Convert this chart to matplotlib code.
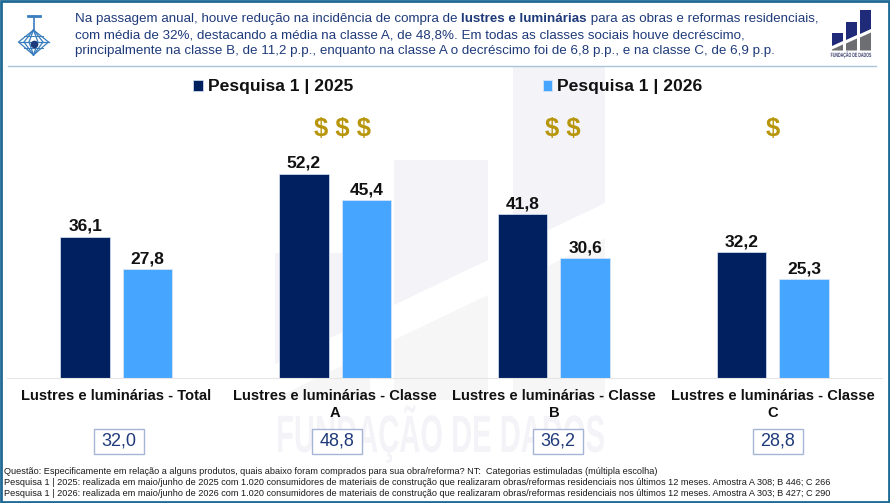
from matplotlib import pyplot as plt
from matplotlib.patches import Polygon, Rectangle
from matplotlib.patheffects import AbstractPathEffect
from matplotlib.transforms import Affine2D
import numpy as np

plt.rcParams['font.family'] = ['Liberation Sans', 'DejaVu Sans']

categorias = ['Lustres e luminárias - Total', 'Lustres e luminárias - Classe\nA',
	'Lustres e luminárias - Classe\nB', 'Lustres e luminárias - Classe\nC']
pesquisa_2025 = [36.1, 52.2, 41.8, 32.2]
pesquisa_2026 = [27.8, 45.4, 30.6, 25.3]
medias = [32.0, 48.8, 36.2, 28.8]
series = ['Pesquisa 1 | 2025', 'Pesquisa 1 | 2026']
cifroes = ['$ $ $', '$ $', '$']

titulo_a = 'Na passagem anual, houve redução na incidência de compra de '
titulo_b = 'lustres e luminárias'
titulo_c = ' para as obras e reformas residenciais,'
titulo_2 = 'com média de 32%, destacando a média na classe A, de 48,8%. Em todas as classes sociais houve decréscimo,'
titulo_3 = 'principalmente na classe B, de 11,2 p.p., enquanto na classe A o decréscimo foi de 6,8 p.p., e na classe C, de 6,9 p.p.'
rodape = ['Questão: Especificamente em relação a alguns produtos, quais abaixo foram comprados para sua obra/reforma? NT:  Categorias estimuladas (múltipla escolha)',
	'Pesquisa 1 | 2025: realizada em maio/junho de 2025 com 1.020 consumidores de materiais de construção que realizaram obras/reformas residenciais nos últimos 12 meses. Amostra A 308; B 446; C 266',
	'Pesquisa 1 | 2026: realizada em maio/junho de 2026 com 1.020 consumidores de materiais de construção que realizaram obras/reformas residenciais nos últimos 12 meses. Amostra A 303; B 427; C 290']

def virgula(v):
	return f'{v:.1f}'.replace('.', ',')

# a fonte condensada nao existe aqui, entao estica o texto na vertical
class Estica(AbstractPathEffect):
	def __init__(self, k):
		super().__init__()
		self.k = k
	def draw_path(self, renderer, gc, tpath, affine, rgbFace=None):
		renderer.draw_path(gc, tpath, Affine2D().scale(1, self.k) + affine, rgbFace)

AZUL_ESCURO = '#002060'
AZUL_CLARO = '#45A5FF'
TEXTO_AZUL = '#1F3A7A'
MARCA = '#F3F3F8'

fig = plt.figure(figsize=(8.9, 5.03), dpi=100)

# fundo em coordenadas de pixel: moldura, marca d'agua, cabecalho
bg = fig.add_axes([0, 0, 1, 1], zorder=0)
bg.set_xlim(0, 890)
bg.set_ylim(503, 0)
bg.axis('off')

# marca d'agua
for x0, x1, topo, y0, y1 in [(275, 370, 253, 364, 319), (394, 488, 160, 305, 260), (513, 605, 67, 247, 203)]:
	bg.add_patch(Polygon([(x0, topo), (x1, topo), (x1, y1), (x0, y0)], fc=MARCA, ec='none'))
for pts in [[(272, 400), (370, 352), (370, 400)],
		[(394, 340), (488, 295), (488, 400), (394, 400)],
		[(513, 283), (605, 238), (605, 400), (513, 400)]]:
	bg.add_patch(Polygon(pts, fc='#F6F6F7', ec='none'))
bg.text(440.5, 452, 'FUNDAÇÃO DE DADOS', fontsize=21, fontweight='bold', color=MARCA, ha='center', va='baseline',
	path_effects=[Estica(1.8)])

# moldura e linha do cabecalho
bg.add_patch(Rectangle((1, 1), 888, 501, fc='none', ec='#1F6A94', lw=2))
bg.plot([8, 876], [65.5, 65.5], color='#A9C4D8', lw=1)

# icone do lustre
LUSTRE = '#3A7DBE'
bg.plot([28, 40], [16, 16], color=LUSTRE, lw=2)
bg.plot([33.5, 33.5], [16, 31], color=LUSTRE, lw=1.2)
for xa in [18.5, 24, 29, 38, 43, 48.5]:
	bg.plot([33.5, xa, 33.5], [30, 42, 55], color=LUSTRE, lw=0.9)
bg.plot([18.5, 48.5], [42, 42], color=LUSTRE, lw=0.9)
bg.plot([24, 43], [36, 36], color=LUSTRE, lw=0.7)
bg.plot([24, 43], [48, 48], color=LUSTRE, lw=0.7)
bg.plot([33.5], [44], 'o', color='#1F3A7A', ms=4.5)

# logo
for x0, y0, topo in [(832, 46, 33), (846, 40, 22), (860, 34, 10)]:
	x1 = x0 + 11
	bg.add_patch(Polygon([(x0, topo), (x1, topo), (x1, y0 - 5), (x0, y0)], fc='#1F2A78', ec='none'))
	bg.add_patch(Polygon([(x0, y0 + 3.5), (x1, y0 - 1.5), (x1, 50.5), (x0, 50.5)], fc='#6D6E71', ec='none'))
bg.text(851, 57, 'FUNDAÇÃO DE DADOS', fontsize=2.6, fontweight='bold', color='#3A3F6B', ha='center', va='baseline',
	path_effects=[Estica(1.7)])

# titulo, o trecho em negrito vai encadeado
TAM = 9.6
t1 = bg.text(75, 19, titulo_a, fontsize=TAM, color=TEXTO_AZUL, va='center')
t2 = bg.annotate(titulo_b, xy=(1, 0), xycoords=t1, fontsize=TAM, fontweight='bold', color=TEXTO_AZUL, va='bottom')
bg.annotate(titulo_c, xy=(1, 0), xycoords=t2, fontsize=TAM, color=TEXTO_AZUL, va='bottom')
bg.text(75, 35, titulo_2, fontsize=TAM, color=TEXTO_AZUL, va='center')
bg.text(75, 51, titulo_3, fontsize=TAM, color=TEXTO_AZUL, va='center')

# cifroes
for x, s in zip([343, 562.5, 773], cifroes):
	bg.text(x, 129, s, fontsize=18.5, fontweight='bold', color='#B8960C', ha='center', va='center', parse_math=False)

# caixas das medias
for xc, m in zip([119, 337, 557.5, 778], medias):
	bg.add_patch(Rectangle((xc - 25, 429), 50, 25, fc='white', ec='#A6B5D5', lw=1, zorder=3))
	bg.text(xc, 441.5, virgula(m), fontsize=13, color=TEXTO_AZUL, ha='center', va='center', zorder=4)

for y, s in zip([471, 482.5, 494], rodape):
	bg.text(4, y, s, fontsize=6.6, color='#1A1A1A', va='center')

# grafico
ax = fig.add_axes([7 / 890, (503 - 378) / 503, 875 / 890, 310 / 503], zorder=1)
ax.patch.set_alpha(0)
x = np.arange(len(categorias))
b1 = ax.bar(x - 0.143, pesquisa_2025, 0.226, color=AZUL_ESCURO, edgecolor='#DCE6F5', linewidth=0.5, label=series[0])
b2 = ax.bar(x + 0.143, pesquisa_2026, 0.226, color=AZUL_CLARO, edgecolor='#DCE6F5', linewidth=0.5, label=series[1])
for b, vals in [(b1, pesquisa_2025), (b2, pesquisa_2026)]:
	ax.bar_label(b, labels=[virgula(v) for v in vals], padding=2, fontsize=12.5, fontweight='bold', color='#111111')
ax.set_xlim(-0.5, 3.5)
ax.set_ylim(0, 79.2)
ax.set_xticks(x)
ax.set_xticklabels(categorias, fontsize=10.6, fontweight='bold', color='#111111', linespacing=1.25)
ax.tick_params(axis='x', length=0, pad=8)
ax.set_yticks([])
for lado in ['top', 'left', 'right']:
	ax.spines[lado].set_visible(False)
ax.spines['bottom'].set_color('#E6E6E6')
ax.legend(loc='center', bbox_to_anchor=(441 / 875, (378 - 87) / 310), ncol=2, frameon=False, handlelength=0.55,
	handleheight=0.55, handletextpad=0.28, columnspacing=10.83, prop={'size': 12.6, 'weight': 'bold'}, labelcolor='#111111')

fig.savefig('out.png', dpi=100)
